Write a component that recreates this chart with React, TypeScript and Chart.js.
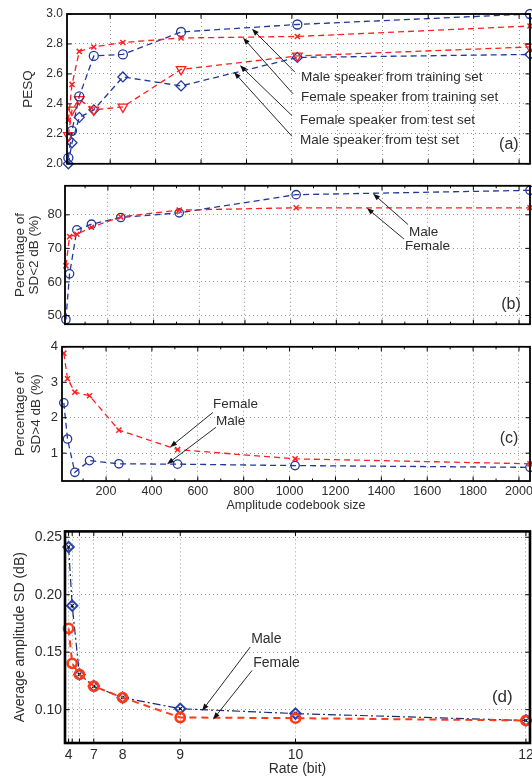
import React, { useEffect, useRef } from 'react';
import { Chart, registerables } from 'chart.js';

Chart.register(...registerables);

const FONT = "'Liberation Sans', Arial, Helvetica, sans-serif";
const RED = '#ff1f1f';
const BLUE = '#22399c';
const NAVY = '#1b2a70';
const ORANGE_RED = '#ff3a14';
const TEXT = '#2e2e2e';
const GRID = '#9a9a9a';

// ---------- shared x data ----------
const codebookSizes = [16, 32, 64, 128, 256, 512, 1024, 2048];
const codebookTicks = [200, 400, 600, 800, 1000, 1200, 1400, 1600, 1800, 2000];
const codebookTickLabels = ['200', '400', '600', '800', '1000', '1200', '1400', '1600', '1800', '2000'];

// ---------- (a) PESQ ----------
const pesqTicks = [2.0, 2.2, 2.4, 2.6, 2.8, 3.0];
const pesqTickLabels = ['2.0', '2.2', '2.4', '2.6', '2.8', '3.0'];
const pesqMaleTrain = [2.04, 2.22, 2.45, 2.72, 2.73, 2.88, 2.93, 3.0];
const pesqFemaleTrain = [2.29, 2.53, 2.75, 2.78, 2.81, 2.84, 2.85, 2.92];
const pesqFemaleTest = [2.19, 2.36, 2.43, 2.36, 2.38, 2.63, 2.72, 2.78];
const pesqMaleTest = [2.0, 2.14, 2.31, 2.36, 2.58, 2.52, 2.71, 2.73];
const notesA = [
  { text: 'Male speaker from training set', textX: 1040, textY: 2.579, tailX: 1013, tailY: 2.612, headX: 824, headY: 2.901 },
  { text: 'Female speaker from training set', textX: 1040, textY: 2.441, tailX: 1005, tailY: 2.467, headX: 785, headY: 2.842 },
  { text: 'Female speaker from test set', textX: 1036, textY: 2.289, tailX: 1000, tailY: 2.322, headX: 771, headY: 2.658 },
  { text: 'Male speaker from test set', textX: 1036, textY: 2.158, tailX: 1000, tailY: 2.184, headX: 745, headY: 2.612 },
];

// ---------- (b) SD < 2 dB ----------
const sdBelow2Ticks = [50, 60, 70, 80];
const sdBelow2TickLabels = ['50', '60', '70', '80'];
const sdBelow2Male = [48.8, 62.4, 75.5, 77.2, 79.2, 80.6, 86.0, 87.3];
const sdBelow2Female = [64.8, 73.5, 74.2, 76.3, 79.4, 81.4, 82.1, 82.1];
const notesB = [
  { text: 'Male', textX: 1518, textY: 74.8, tailX: 1514, tailY: 77.1, headX: 1361, headY: 86.3 },
  { text: 'Female', textX: 1501, textY: 70.5, tailX: 1496, tailY: 72.8, headX: 1334, headY: 82.0 },
];

// ---------- (c) SD > 4 dB ----------
const sdAbove4Ticks = [1, 2, 3, 4];
const sdAbove4TickLabels = ['1', '2', '3', '4'];
const sdAbove4Male = [2.42, 1.4, 0.46, 0.79, 0.7, 0.69, 0.65, 0.6];
const sdAbove4Female = [3.82, 3.1, 2.72, 2.62, 1.65, 1.1, 0.84, 0.7];
const notesC = [
  { text: 'Female', textX: 666, textY: 2.374, tailX: 666, tailY: 2.15, headX: 479, headY: 1.17 },
  { text: 'Male', textX: 679, textY: 1.897, tailX: 679, tailY: 1.73, headX: 466, headY: 0.69 },
];

// ---------- (d) Average amplitude SD vs rate ----------
const rateCodebookSizes = [16, 32, 64, 128, 256, 512, 1024, 2048];
const rateTickLabels = ['4', '', '', '7', '8', '9', '10', '12'];
const avgSdTicks = [0.1, 0.15, 0.2, 0.25];
const avgSdTickLabels = ['0.10', '0.15', '0.20', '0.25'];
const avgSdMale = [0.2415, 0.1905, 0.1307, 0.1204, 0.1105, 0.1008, 0.0966, 0.0906];
const avgSdFemale = [0.1707, 0.1403, 0.1307, 0.1204, 0.1105, 0.0932, 0.0926, 0.0906];
const notesD = [
  { text: 'Male', textX: 827, textY: 0.1613, tailX: 823, tailY: 0.1545, headX: 609, headY: 0.0991 },
  { text: 'Female', textX: 836, textY: 0.1409, tailX: 831, tailY: 0.1341, headX: 658, headY: 0.0915 },
];

const CANVAS_W = 545;

const pts = (xs: number[], ys: number[]) => xs.map((x, i) => ({ x, y: ys[i] }));

function series(xs: number[], ys: number[], color: string, style: string, radius: number, extra: any = {}) {
  return {
    data: pts(xs, ys),
    borderColor: color,
    backgroundColor: 'rgba(0,0,0,0)',
    borderWidth: 1.3,
    borderDash: [6, 4],
    pointStyle: style,
    pointRadius: radius,
    pointBorderColor: color,
    pointBackgroundColor: 'rgba(0,0,0,0)',
    pointBorderWidth: 1.3,
    tension: 0,
    clip: 12,
    ...extra,
  };
}

function drawArrow(ctx: CanvasRenderingContext2D, x1: number, y1: number, x2: number, y2: number) {
  const ang = Math.atan2(y2 - y1, x2 - x1);
  const L = 7;
  const W = 2.6;
  const c = Math.cos(ang);
  const s = Math.sin(ang);
  ctx.beginPath();
  ctx.moveTo(x1, y1);
  ctx.lineTo(x2 - c * L * 0.7, y2 - s * L * 0.7);
  ctx.stroke();
  ctx.beginPath();
  ctx.moveTo(x2, y2);
  ctx.lineTo(x2 - L * c + W * s, y2 - L * s - W * c);
  ctx.lineTo(x2 - L * c - W * s, y2 - L * s + W * c);
  ctx.closePath();
  ctx.fill();
}

const matlabPlugin = {
  id: 'matlabBox',
  afterDraw(chart: any, _args: any, o: any) {
    const { ctx, chartArea: a, scales } = chart;
    const xs = scales.x;
    const ys = scales.y;
    ctx.save();
    ctx.strokeStyle = '#000';
    ctx.lineWidth = 1;
    ctx.beginPath();
    const L = 4.5;
    xs.ticks.forEach((t: any) => {
      const px = xs.getPixelForValue(t.value);
      ctx.moveTo(px, a.bottom);
      ctx.lineTo(px, a.bottom - L);
      ctx.moveTo(px, a.top);
      ctx.lineTo(px, a.top + L);
    });
    if (o.minorStep) {
      for (let v = o.minorStep; v < xs.max; v += o.minorStep * 2) {
        const px = xs.getPixelForValue(v);
        ctx.moveTo(px, a.bottom);
        ctx.lineTo(px, a.bottom - 2.5);
        ctx.moveTo(px, a.top);
        ctx.lineTo(px, a.top + 2.5);
      }
    }
    ys.ticks.forEach((t: any) => {
      const py = ys.getPixelForValue(t.value);
      ctx.moveTo(a.left, py);
      ctx.lineTo(a.left + L, py);
      ctx.moveTo(a.right, py);
      ctx.lineTo(a.right - L, py);
    });
    ctx.stroke();
    ctx.lineWidth = o.boxWidth;
    ctx.strokeRect(a.left, a.top, a.right - a.left, a.bottom - a.top);

    // annotations
    ctx.fillStyle = TEXT;
    ctx.font = `${o.noteSize}px ${FONT}`;
    ctx.textBaseline = 'middle';
    ctx.textAlign = 'left';
    (o.notes || []).forEach((n: any) => {
      ctx.fillText(n.text, xs.getPixelForValue(n.textX), ys.getPixelForValue(n.textY));
    });
    ctx.strokeStyle = '#111';
    ctx.fillStyle = '#111';
    ctx.lineWidth = 0.9;
    (o.notes || []).forEach((n: any) => {
      drawArrow(ctx, xs.getPixelForValue(n.tailX), ys.getPixelForValue(n.tailY), xs.getPixelForValue(n.headX), ys.getPixelForValue(n.headY));
    });
    if (o.label) {
      ctx.fillStyle = TEXT;
      ctx.font = `${o.labelSize}px ${FONT}`;
      ctx.textAlign = 'center';
      ctx.fillText(o.label.text, xs.getPixelForValue(o.label.x), ys.getPixelForValue(o.label.y));
    }
    ctx.restore();
  },
};

function makeConfig(p: any): any {
  return {
    type: 'line',
    data: { datasets: p.datasets },
    plugins: [matlabPlugin],
    options: {
      animation: false,
      responsive: false,
      events: [],
      layout: { padding: { top: p.padTop, right: CANVAS_W - 530, left: 0, bottom: 0 } },
      plugins: {
        legend: { display: false },
        tooltip: { enabled: false },
        matlabBox: {
          boxWidth: p.boxWidth,
          minorStep: p.minorStep,
          notes: p.notes,
          noteSize: p.noteSize,
          label: p.label,
          labelSize: p.labelSize,
        },
      },
      scales: {
        x: {
          type: 'linear',
          min: p.xMin,
          max: p.xMax,
          afterBuildTicks: (s: any) => {
            s.ticks = p.xTicks.map((v: number) => ({ value: v }));
          },
          afterFit: (s: any) => {
            s.height = p.xHeight;
          },
          grid: { color: GRID, lineWidth: 1, drawTicks: false },
          border: { display: false, dash: [1, 3] },
          ticks: {
            display: p.showXLabels,
            autoSkip: false,
            maxRotation: 0,
            padding: p.xLabelPad,
            color: TEXT,
            font: { family: FONT, size: p.xLabelSize },
            callback: (_v: any, i: number) => p.xLabels[i],
          },
          title: p.xTitle
            ? {
                display: true,
                text: p.xTitle,
                color: TEXT,
                font: { family: FONT, size: p.xTitleSize, lineHeight: p.xTitleLH },
                padding: { top: 0, bottom: p.xTitlePad },
              }
            : { display: false },
        },
        y: {
          type: 'linear',
          min: p.yMin,
          max: p.yMax,
          afterBuildTicks: (s: any) => {
            s.ticks = p.yTicks.map((v: number) => ({ value: v }));
          },
          afterFit: (s: any) => {
            s.width = p.yWidth;
          },
          grid: { color: GRID, lineWidth: 1, drawTicks: false },
          border: { display: false, dash: [1, 3] },
          ticks: {
            padding: p.yLabelPad,
            color: TEXT,
            font: { family: FONT, size: p.yLabelSize },
            callback: (_v: any, i: number) => p.yLabels[i],
          },
          title: {
            display: true,
            text: p.yTitle,
            color: TEXT,
            font: { family: FONT, size: p.yTitleSize, lineHeight: p.yTitleLH },
            padding: { top: p.yTitlePad, bottom: 0 },
          },
        },
      },
    },
  };
}

const panelA = {
  datasets: [
    series(codebookSizes, pesqFemaleTrain, RED, 'crossRot', 3.6, { pointBorderWidth: 1.5 }),
    series(codebookSizes, pesqMaleTrain, BLUE, 'circle', 4.5),
    series(codebookSizes, pesqFemaleTest, RED, 'triangle', 5.5, { pointRotation: 180 }),
    series(codebookSizes, pesqMaleTest, BLUE, 'rectRot', 5),
  ],
  xMin: 10, xMax: 2048, xTicks: codebookTicks, xLabels: codebookTickLabels, showXLabels: false,
  xHeight: 9, xLabelPad: 3, xLabelSize: 12,
  yMin: 2.0, yMax: 3.0, yTicks: pesqTicks, yLabels: pesqTickLabels,
  yTitle: 'PESQ', yTitleSize: 13.5, yTitleLH: 1.2, yTitlePad: 20, yWidth: 67, yLabelSize: 12, yLabelPad: 4,
  padTop: 14, boxWidth: 1.8, minorStep: 0, notes: notesA, noteSize: 13.5,
  label: { text: '(a)', x: 1955, y: 2.125 }, labelSize: 16,
};

const panelB = {
  datasets: [
    series(codebookSizes, sdBelow2Female, RED, 'crossRot', 3.6, { pointBorderWidth: 1.5 }),
    series(codebookSizes, sdBelow2Male, BLUE, 'circle', 4.2),
  ],
  xMin: 12, xMax: 2048, xTicks: codebookTicks, xLabels: codebookTickLabels, showXLabels: false,
  xHeight: 7, xLabelPad: 3, xLabelSize: 12,
  yMin: 47.4, yMax: 88.65, yTicks: sdBelow2Ticks, yLabels: sdBelow2TickLabels,
  yTitle: ['Percentage of', 'SD<2 dB (%)'], yTitleSize: 13.5, yTitleLH: 1.0, yTitlePad: 14, yWidth: 65, yLabelSize: 13, yLabelPad: 3,
  padTop: 10, boxWidth: 1.8, minorStep: 100, notes: notesB, noteSize: 13.5,
  label: { text: '(b)', x: 1965, y: 53.2 }, labelSize: 16,
};

const panelC = {
  datasets: [
    series(codebookSizes, sdAbove4Female, RED, 'crossRot', 3.6, { pointBorderWidth: 1.5 }),
    series(codebookSizes, sdAbove4Male, BLUE, 'circle', 4.2),
  ],
  xMin: 8, xMax: 2048, xTicks: codebookTicks, xLabels: codebookTickLabels, showXLabels: true,
  xHeight: 39, xLabelPad: 3, xLabelSize: 12.5,
  xTitle: 'Amplitude codebook size', xTitleSize: 12.5, xTitleLH: 1.2, xTitlePad: 6.5,
  yMin: 0.215, yMax: 4, yTicks: sdAbove4Ticks, yLabels: sdAbove4TickLabels,
  yTitle: ['Percentage of', 'SD>4 dB (%)'], yTitleSize: 13.5, yTitleLH: 1.15, yTitlePad: 13, yWidth: 62, yLabelSize: 13, yLabelPad: 4,
  padTop: 11, boxWidth: 1.8, minorStep: 100, notes: notesC, noteSize: 13.5,
  label: { text: '(c)', x: 1957, y: 1.42 }, labelSize: 16,
};

const panelD = {
  datasets: [
    series(rateCodebookSizes, avgSdFemale, ORANGE_RED, 'circle', 4.6, { borderWidth: 2, borderDash: [7, 5], pointBorderWidth: 2.6 }),
    series(rateCodebookSizes, avgSdMale, '#000', 'crossRot', 2.3, { showLine: false, pointBorderWidth: 1.1 }),
    series(rateCodebookSizes, avgSdMale, NAVY, 'rectRot', 5.2, { borderWidth: 1.2, borderDash: [8, 3, 2, 3], pointBorderColor: '#2541b2', pointBorderWidth: 2 }),
  ],
  xMin: 0, xMax: 2066, xTicks: rateCodebookSizes, xLabels: rateTickLabels, showXLabels: true,
  xHeight: 33, xLabelPad: 4, xLabelSize: 14,
  xTitle: 'Rate (bit)', xTitleSize: 14, xTitleLH: 1.0, xTitlePad: 0,
  yMin: 0.071, yMax: 0.2551, yTicks: avgSdTicks, yLabels: avgSdTickLabels,
  yTitle: 'Average amplitude SD (dB)', yTitleSize: 14, yTitleLH: 1.2, yTitlePad: 12, yWidth: 65, yLabelSize: 14, yLabelPad: 3,
  padTop: 7, boxWidth: 2.6, minorStep: 0, notes: notesD, noteSize: 14,
  label: { text: '(d)', x: 1943, y: 0.111 }, labelSize: 17,
};

function Panel({ spec, top, height }: { spec: any; top: number; height: number }) {
  const ref = useRef<HTMLCanvasElement>(null);
  useEffect(() => {
    if (!ref.current) return;
    const chart = new Chart(ref.current, makeConfig(spec));
    return () => chart.destroy();
  }, [spec]);
  return (
    <canvas
      ref={ref}
      width={CANVAS_W}
      height={height}
      style={{ position: 'absolute', left: 0, top, width: CANVAS_W, height, display: 'block' }}
    />
  );
}

export default function App() {
  return (
    <div
      style={{
        position: 'fixed',
        left: 0,
        top: 0,
        width: 532,
        height: 776,
        overflow: 'hidden',
        background: '#fff',
      }}
    >
      <Panel spec={panelA} top={0} height={175} />
      <Panel spec={panelB} top={175} height={160} />
      <Panel spec={panelC} top={335} height={185} />
      <Panel spec={panelD} top={520} height={256} />
    </div>
  );
}
